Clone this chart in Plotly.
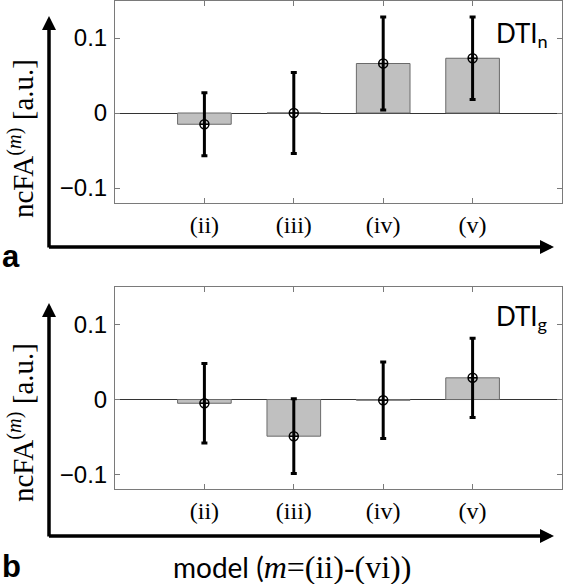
import plotly.graph_objects as go

categories = ["(ii)", "(iii)", "(iv)", "(v)"]
xpos = [1, 2, 3, 4]
top_vals = [-0.015, 0.0, 0.066, 0.073]
top_err = [0.042, 0.054, 0.062, 0.055]
bot_vals = [-0.005, -0.049, -0.001, 0.029]
bot_err = [0.053, 0.050, 0.051, 0.053]
ytick_vals = [-0.1, 0, 0.1]
ytick_text = ["\u22120.1", "0", "0.1"]

W, H = 563, 584
def px(x): return x / W
def py(y): return 1 - y / H

fig = go.Figure()
for vals, errs, xa, ya in [(top_vals, top_err, "x", "y"), (bot_vals, bot_err, "x2", "y2")]:
    fig.add_trace(go.Bar(x=xpos, y=vals, width=0.6, marker=dict(color="#c0c0c0", line=dict(color="#6a6a6a", width=1)),
                         xaxis=xa, yaxis=ya, showlegend=False))
    fig.add_trace(go.Scatter(x=xpos, y=vals, mode="markers",
                             marker=dict(symbol="circle-cross-open", size=9, color="black", line=dict(width=1.5, color="black")),
                             error_y=dict(type="data", array=errs, visible=True, color="black", thickness=3, width=3),
                             xaxis=xa, yaxis=ya, showlegend=False))

xdom = [px(115), px(562)]
axis_common = dict(showline=True, mirror="ticks", linecolor="#7a7a7a", linewidth=1, ticks="inside", ticklen=5,
                   tickcolor="#7a7a7a", showgrid=False)
xaxis = dict(axis_common, domain=xdom, range=[0, 5], tickvals=xpos, ticktext=categories, zeroline=False,
             tickfont=dict(family="Liberation Serif", size=24, color="black"), ticklabelstandoff=0)
yaxis = dict(axis_common, range=[-0.12, 0.15], tickvals=ytick_vals, ticktext=ytick_text, zeroline=True,
             zerolinecolor="#333", zerolinewidth=1,
             tickfont=dict(family="Liberation Sans", size=24, color="black"), ticklabelstandoff=2)

fig.update_layout(
    width=W, height=H, autosize=False, margin=dict(l=0, r=0, t=0, b=0),
    paper_bgcolor="white", plot_bgcolor="white", barmode="overlay",
    xaxis=dict(xaxis, anchor="y"), yaxis=dict(yaxis, domain=[py(203), py(0.5)], anchor="x"),
    xaxis2=dict(xaxis, anchor="y2"), yaxis2=dict(yaxis, domain=[py(489.3), py(287.3)], anchor="x2"),
)

ann = []
def arrow(tx, ty, sx, sy):
    ann.append(dict(x=px(tx), y=py(ty), xref="paper", yref="paper", ax=sx - tx, ay=sy - ty, axref="pixel", ayref="pixel",
                    text="", showarrow=True, arrowhead=2, arrowsize=0.8, arrowwidth=3.5, arrowcolor="black"))
arrow(49, 16, 49, 249)
arrow(554, 247, 47.5, 247)
arrow(49, 303, 49, 538)
arrow(554, 536, 47.5, 536)

ytitle = "ncFA<sup>(<i>m</i>)</sup> [a.u.]"
for yc in (139, 423):
    ann.append(dict(x=px(21), y=py(yc), xref="paper", yref="paper", text=ytitle, showarrow=False, textangle=-90,
                    xanchor="center", yanchor="middle",
                    font=dict(family="Liberation Serif", size=29, color="black")))
for t, yc in (("a", 256), ("b", 566)):
    ann.append(dict(x=px(11), y=py(yc), xref="paper", yref="paper", text="<b>" + t + "</b>", showarrow=False,
                    xanchor="center", yanchor="middle",
                    font=dict(family="Liberation Sans", size=31, color="black")))
for t, yc in (("DTI<sub>n</sub>", 35), ("DTI<sub>g</sub>", 317)):
    ann.append(dict(x=px(494), y=py(yc), xref="paper", yref="paper", text=t, showarrow=False, xanchor="left",
                    yanchor="middle", font=dict(family="Lato", size=26, color="black")))
ann.append(dict(x=px(292), y=py(567), xref="paper", yref="paper", showarrow=False, xanchor="center", yanchor="middle",
                text='model (<span style="font-family:Liberation Serif;font-size:32px"><i>m</i>=(ii)-(vi))</span>',
                font=dict(family="Lato", size=28, color="black")))
fig.update_layout(annotations=ann)

fig.write_html("out.html", config={"displayModeBar": False},
               post_script="document.body.style.margin='0';document.body.style.overflow='hidden';")
